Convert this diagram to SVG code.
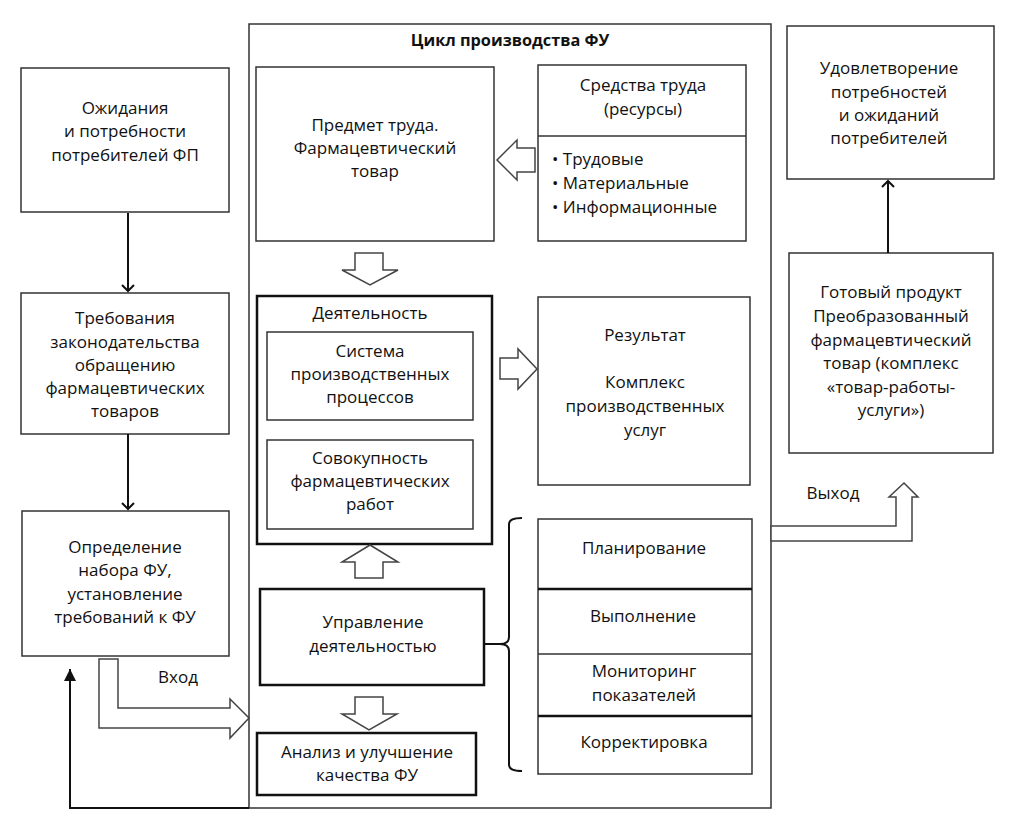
<svg xmlns="http://www.w3.org/2000/svg" width="1015" height="817" viewBox="0 0 1015 817">
<style>
text{font-family:"Open Sans","Liberation Sans",sans-serif;font-size:17px;fill:#111;text-anchor:middle}
.t{font-weight:bold;font-size:16.3px}
.l{text-anchor:start}
.b{fill:#fff;stroke:#333;stroke-width:1.5}
.k{fill:#fff;stroke:#111;stroke-width:2.5}
.h{fill:#fff;stroke:#444;stroke-width:1.5;stroke-linejoin:miter}
.c{fill:none;stroke:#111;stroke-width:2}
</style>
<defs>
<marker id="v" markerWidth="14" markerHeight="14" refX="7" refY="7" orient="auto" markerUnits="userSpaceOnUse" viewBox="0 0 14 14">
<path d="M1,1 L7,7 L1,13" fill="none" stroke="#111" stroke-width="2"/>
</marker>
<marker id="f" markerWidth="14" markerHeight="14" refX="12" refY="6" orient="auto" markerUnits="userSpaceOnUse" viewBox="0 0 14 12">
<path d="M0,0 L12,6 L0,12 Z" fill="#111"/>
</marker>
</defs>

<g id="cycle">
<rect class="b" x="249" y="24" width="522" height="784"/>
<text class="t" x="510" y="46">Цикл производства ФУ</text>
</g>

<g id="subject">
<rect class="b" x="256" y="67" width="238" height="174"/>
<text x="375" y="131">Предмет труда.</text>
<text x="375" y="154">Фармацевтический</text>
<text x="375" y="177">товар</text>
</g>

<g id="means">
<rect class="b" x="538" y="65" width="208" height="176"/>
<line x1="538" y1="136" x2="746" y2="136" stroke="#333" stroke-width="1.5"/>
<text x="643" y="91">Средства труда</text>
<text x="643" y="115">(ресурсы)</text>
<text class="l" x="552" y="165">• Трудовые</text>
<text class="l" x="552" y="189">• Материальные</text>
<text class="l" x="552" y="213">• Информационные</text>
</g>

<g id="activity">
<rect class="k" x="257" y="296" width="235" height="248"/>
<text x="370" y="319">Деятельность</text>
</g>
<g id="processes">
<rect class="b" x="267" y="332" width="206" height="88"/>
<text x="370" y="357">Система</text>
<text x="370" y="380">производственных</text>
<text x="370" y="403">процессов</text>
</g>
<g id="works">
<rect class="b" x="267" y="440" width="206" height="89"/>
<text x="370" y="464">Совокупность</text>
<text x="370" y="487">фармацевтических</text>
<text x="370" y="510">работ</text>
</g>

<g id="result">
<rect class="b" x="538" y="297" width="212" height="188"/>
<text x="645" y="341">Результат</text>
<text x="645" y="388">Комплекс</text>
<text x="645" y="412">производственных</text>
<text x="645" y="436">услуг</text>
</g>

<g id="management">
<rect class="k" x="260" y="589" width="224" height="96"/>
<text x="373" y="628">Управление</text>
<text x="373" y="652">деятельностью</text>
</g>

<g id="analysis">
<rect class="k" x="257" y="733" width="219" height="62"/>
<text x="367" y="758">Анализ и улучшение</text>
<text x="367" y="781">качества ФУ</text>
</g>

<g id="steps">
<rect class="b" x="538" y="519" width="214" height="255"/>
<line x1="538" y1="589" x2="752" y2="589" stroke="#111" stroke-width="2.5"/>
<line x1="538" y1="654" x2="752" y2="654" stroke="#333" stroke-width="1.5"/>
<line x1="538" y1="716" x2="752" y2="716" stroke="#111" stroke-width="2.5"/>
<text x="644" y="554">Планирование</text>
<text x="643" y="622">Выполнение</text>
<text x="644" y="677">Мониторинг</text>
<text x="644" y="701">показателей</text>
<text x="644" y="748">Корректировка</text>
</g>

<g id="expectations">
<rect class="b" x="21" y="68" width="208" height="144"/>
<text x="125" y="114">Ожидания</text>
<text x="125" y="137">и потребности</text>
<text x="125" y="161">потребителей ФП</text>
</g>

<g id="requirements">
<rect class="b" x="21" y="293" width="208" height="141"/>
<text x="125" y="324">Требования</text>
<text x="125" y="348">законодательства</text>
<text x="125" y="371">обращению</text>
<text x="125" y="394">фармацевтических</text>
<text x="125" y="417">товаров</text>
</g>

<g id="definition">
<rect class="b" x="22" y="511" width="207" height="145"/>
<text x="125" y="553">Определение</text>
<text x="125" y="576">набора ФУ,</text>
<text x="125" y="600">установление</text>
<text x="125" y="623">требований к ФУ</text>
</g>

<g id="satisfaction">
<rect class="b" x="787" y="26" width="207" height="153"/>
<text x="889" y="74">Удовлетворение</text>
<text x="889" y="98">потребностей</text>
<text x="889" y="121">и ожиданий</text>
<text x="889" y="144">потребителей</text>
</g>

<g id="product">
<rect class="b" x="789" y="253" width="204" height="200"/>
<text x="891" y="298">Готовый продукт</text>
<text x="891" y="322">Преобразованный</text>
<text x="891" y="346">фармацевтический</text>
<text x="891" y="369">товар (комплекс</text>
<text x="891" y="393">«товар-работы-</text>
<text x="891" y="416">услуги»)</text>
</g>

<g id="connectors">
<line class="c" x1="128" y1="213" x2="128" y2="291" marker-end="url(#v)"/>
<line class="c" x1="128" y1="434" x2="128" y2="509" marker-end="url(#v)"/>
<line class="c" x1="888" y1="253" x2="888" y2="181" stroke-width="3" marker-end="url(#v)"/>
<polyline class="c" points="249,808 70,808 70,669" marker-end="url(#f)"/>
<polygon class="h" points="535,148 517,148 517,140 497,160 517,180 517,172 535,172"/>
<polygon class="h" points="355,253 383,253 383,270 398,270 370,285 342,270 355,270"/>
<polygon class="h" points="500,358 518,358 518,349 537,369 518,389 518,379 500,379"/>
<polygon class="h" points="355,578 383,578 383,562 398,562 370,545 342,562 355,562"/>
<polygon class="h" points="355,697 383,697 383,714 397,714 369,730 342,714 355,714"/>
<polygon class="h" points="99,659 118,659 118,708 230,708 230,699 249,718 230,738 230,728 99,728"/>
<polygon class="h" points="771,526 896,526 896,497 889,497 904,483 918,497 912,497 912,541 771,541"/>
<path d="M522,518 Q509,518 509,524 L509,637 Q509,644 500,644 L484,644 M500,644 Q509,644 509,651 L509,765 Q509,771 522,771" fill="none" stroke="#111" stroke-width="2"/>
<text x="178" y="683">Вход</text>
<text x="833" y="499">Выход</text>
</g>
</svg>
